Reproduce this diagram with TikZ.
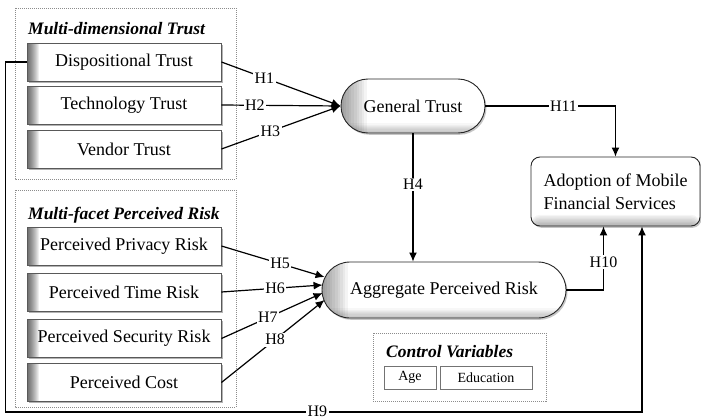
\documentclass[tikz,border=0pt]{standalone}
\usepackage{fontspec}
\setmainfont{Liberation Serif}
\usetikzlibrary{shapes.misc,shadows,arrows.meta,calc}
\newcommand{\boxfnt}{\fontsize{18}{20}\selectfont}
\newcommand{\lblfnt}{\fontsize{16}{18}\selectfont}
\newcommand{\ttlfnt}{\fontsize{17.5}{19}\selectfont\bfseries\itshape}
\newcommand{\smfnt}{\fontsize{14}{16}\selectfont}
\tikzset{
  fbox/.style={draw=black!65, line width=0.9pt, fill=white, minimum width=194pt,
    minimum height=38pt, inner sep=0pt, font=\boxfnt,
    drop shadow={shadow xshift=1.5pt, shadow yshift=-1.8pt, fill=black!50, opacity=0.6},
    path picture={
      \foreach \i in {1,...,12}
        \fill[black, fill opacity=0.065]
          (path picture bounding box.north west) rectangle ($(path picture bounding box.south west)+(\i,0)$);}},
  stad/.style={rounded rectangle, draw=black!85, line width=0.9pt, fill=white, inner sep=0pt,
    font=\boxfnt,
    drop shadow={shadow xshift=1.5pt, shadow yshift=-1.8pt, fill=black!45, opacity=0.5},
    path picture={
      \foreach \i in {1,...,10}
        \fill[black, fill opacity=0.045]
          (path picture bounding box.north west) rectangle ($(path picture bounding box.south west)+(2.6*\i,0)$);
      \foreach \i in {1,...,8}
        \fill[black, fill opacity=0.03]
          (path picture bounding box.south west) rectangle ($(path picture bounding box.south east)+(0,-1.2*\i)$);}},
  adbox/.style={rectangle, rounded corners=9pt, draw=black!85, line width=0.9pt, fill=white,
    inner sep=0pt, font=\boxfnt, align=left,
    drop shadow={shadow xshift=1.5pt, shadow yshift=-1.8pt, fill=black!45, opacity=0.5},
    path picture={
      \foreach \i in {1,...,8}
        \fill[black, fill opacity=0.04]
          (path picture bounding box.south west) rectangle ($(path picture bounding box.south east)+(0,-1.4*\i)$);}},
  cvbox/.style={draw=black!55, line width=0.7pt, fill=white, inner sep=0pt, minimum height=23pt,
    font=\smfnt, drop shadow={shadow xshift=1.2pt, shadow yshift=-1.2pt, fill=black!40, opacity=0.5}},
  grp/.style={draw=black!45, line width=0.5pt, dash pattern=on 1pt off 1pt},
  ttl/.style={anchor=base west, inner sep=0pt, font=\ttlfnt},
  arr/.style={draw=black, line width=1.2pt, -{Latex[length=9pt,width=8pt]}},
  lbl/.style={fill=white, inner sep=1.5pt, font=\lblfnt}
}
\begin{document}
\begin{tikzpicture}[x=1pt,y=-1pt]
\useasboundingbox (0,0) rectangle (701,420);
% groups
\draw[grp] (15,8) rectangle (236,179);
\draw[grp] (15,190) rectangle (236,407);
\draw[grp] (373,333) rectangle (546,401);
\node[ttl] (t1) at (28,35) {Multi-dimensional Trust};
\node[ttl] (t2) at (28,219) {Multi-facet Perceived Risk};
\node[ttl] (t3) at (386,357) {Control Variables};
% boxes
\node[fbox] (disp) at (124,62) {Dispositional Trust};
\node[fbox] (tech) at (124,105) {Technology Trust};
\node[fbox] (vend) at (124,149) {Vendor Trust};
\node[fbox] (priv) at (124,246) {Perceived Privacy Risk};
\node[fbox] (time) at (124,292) {Perceived Time Risk};
\node[fbox] (secu) at (124,338.5) {Perceived Security Risk};
\node[fbox] (cost) at (124,382.5) {Perceived Cost};
\node[stad, minimum width=144pt, minimum height=54pt] (gt) at (413,106) {General Trust};
\node[stad, minimum width=244pt, minimum height=56pt] (agg) at (444,290) {Aggregate Perceived Risk};
\node[adbox, minimum width=169pt, minimum height=69pt] (adopt) at (615.5,191.5)
  {Adoption of Mobile\\[3pt]Financial Services};
\node[cvbox, minimum width=52pt] (age) at (410,377.5) {Age};
\node[cvbox, minimum width=92pt] (edu) at (486,377.5) {Education};
% coordinates
\coordinate (a5) at ($(agg.west)+(3,-13)$);
\coordinate (a6) at ($(agg.west)+(1,-5)$);
\coordinate (a7) at ($(agg.west)+(1,3)$);
\coordinate (a8) at ($(agg.west)+(3,10)$);
\coordinate (h10) at ($(adopt.south)+(-12,0)$);
\coordinate (h9c) at (642,412);
% connectors
\draw[arr] (disp.east) -- node[lbl,pos=0.36]{H1} (gt.west);
\draw[arr] (tech.east) -- node[lbl,pos=0.28]{H2} (gt.west);
\draw[arr] (vend.east) -- node[lbl,pos=0.41]{H3} (gt.west);
\draw[arr] (priv.east) -- node[lbl,pos=0.57]{H5} (a5);
\draw[arr] (time.east) -- node[lbl,pos=0.53]{H6} (a6);
\draw[arr] (secu.east) -- node[lbl,pos=0.46]{H7} (a7);
\draw[arr] (cost.east) -- node[lbl,pos=0.52]{H8} (a8);
\draw[arr] (gt.south) -- node[lbl,pos=0.4]{H4} (gt.south |- agg.north);
\draw[arr] (gt.east) -| node[lbl,pos=0.3]{H11} (adopt.north);
\draw[arr] (agg.east) -| node[lbl,pos=0.72]{H10} (h10);
\draw[arr] (disp.west) -- ++(-21,0) |- node[lbl,pos=0.745,inner ysep=0.5pt,yshift=1pt]{H9} (h9c) -- (adopt.south -| h9c);
\end{tikzpicture}
\end{document}
